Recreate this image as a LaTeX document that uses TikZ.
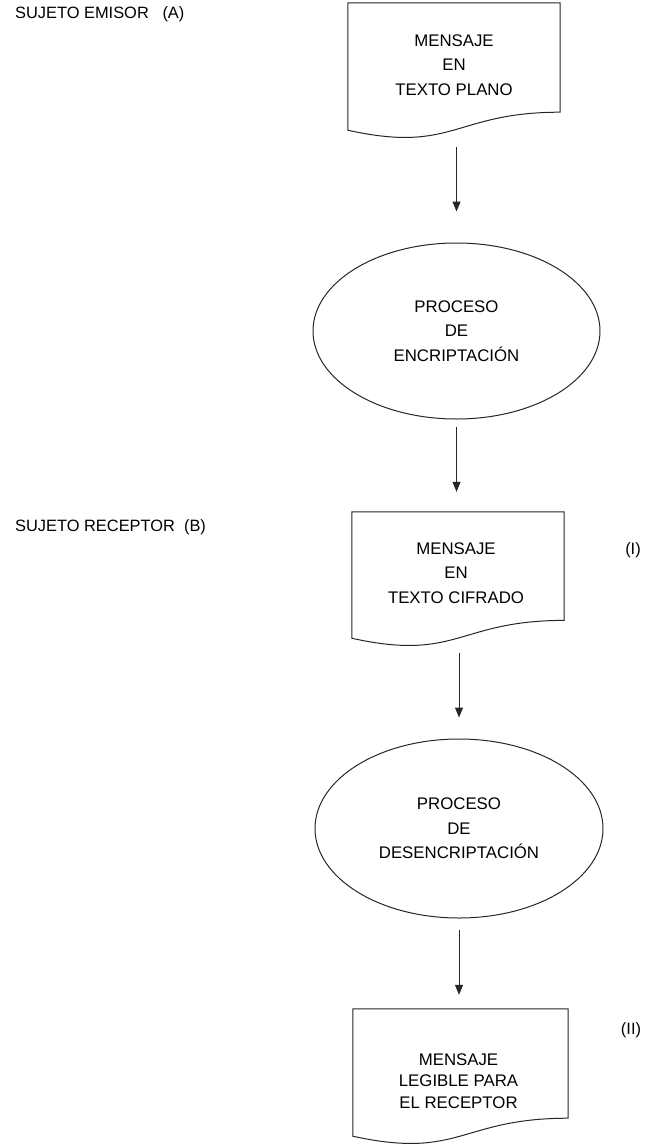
\documentclass[tikz,border=0pt]{standalone}
\usepackage{fontspec}
\setmainfont{Liberation Sans}
\usetikzlibrary{shapes.geometric,arrows.meta,calc}

\tikzset{
  x=1pt, y=1pt,
  outline/.style={draw=black!85, line width=1pt, line join=miter},
  docbody/.style={draw=none, inner sep=0pt, rectangle},
  txt/.style={align=center, inner sep=0pt, font=\fontsize{16.8}{24.5}\selectfont},
  procbox/.style={ellipse, outline, inner sep=0pt, align=center,
    font=\fontsize{16.8}{24.5}\selectfont},
  side/.style={inner sep=0pt, font=\fontsize{16.4}{18}\selectfont},
  flow/.style={draw=black!85, line width=1pt,
    -{Triangle[length=10pt, width=8pt]}},
}

% document symbol: straight top and sides, wavy lower edge
\newcommand\docoutline[1]{%
  \draw[outline] (#1.north west) -- (#1.north east)
    -- ($(#1.north east)!0.802!(#1.south east)$)
    .. controls ($(#1.north)!0.802!(#1.south)$) and ($(#1.north)!1.107!(#1.south)$)
    .. ($(#1.north west)!0.934!(#1.south west)$) -- cycle;}

\begin{document}
\begin{tikzpicture}
\useasboundingbox (0,0) rectangle (659,-1146);

% side captions
\node[side, anchor=west] (lA) at (15,-14) {SUJETO EMISOR\ \ \ (A)};
\node[side, anchor=west] (lB) at (15,-527) {SUJETO RECEPTOR\ \ (B)};
\node[side] (lI) at (633,-550) {(I)};
\node[side] (lII) at (631,-1030) {(II)};

% plain text message
\node[docbody, minimum width=212pt, minimum height=136pt] (d1) at (454,-71) {};
\docoutline{d1}
\node[txt, yshift=6pt] (d1t) at (d1.center) {MENSAJE\\EN\\TEXTO PLANO};

% encryption
\node[procbox, minimum width=287pt, minimum height=176pt] (e1) at (456.5,-331)
  {PROCESO\\DE\\ENCRIPTACIÓN};

% cipher text message
\node[docbody, minimum width=212pt, minimum height=135pt] (d2) at (458,-579.5) {};
\docoutline{d2}
\node[txt, yshift=6.5pt, xshift=-2pt] (d2t) at (d2.center) {MENSAJE\\EN\\TEXTO CIFRADO};

% decryption
\node[procbox, minimum width=288pt, minimum height=179pt] (e2) at (459,-828.5)
  {PROCESO\\DE\\DESENCRIPTACIÓN};

% readable message
\node[docbody, minimum width=215pt, minimum height=136pt] (d3) at (460.5,-1077) {};
\docoutline{d3}
\node[txt, yshift=-4pt, xshift=-2pt, font=\fontsize{16.8}{21.5}\selectfont] (d3t) at (d3.center)
  {MENSAJE\\LEGIBLE PARA\\EL RECEPTOR};

% flow arrows
\draw[flow, shorten <=8pt, shorten >=31pt] (d1.south -| e1.north) -- (e1.north);
\draw[flow, shorten <=7pt, shorten >=20pt] (e1.south) -- (e1.south |- d2.north);
\draw[flow, shorten <=6pt, shorten >=21pt] (d2.south -| e2.north) -- (e2.north);
\draw[flow, shorten <=11pt, shorten >=14pt] (e2.south) -- (e2.south |- d3.north);
\end{tikzpicture}
\end{document}
